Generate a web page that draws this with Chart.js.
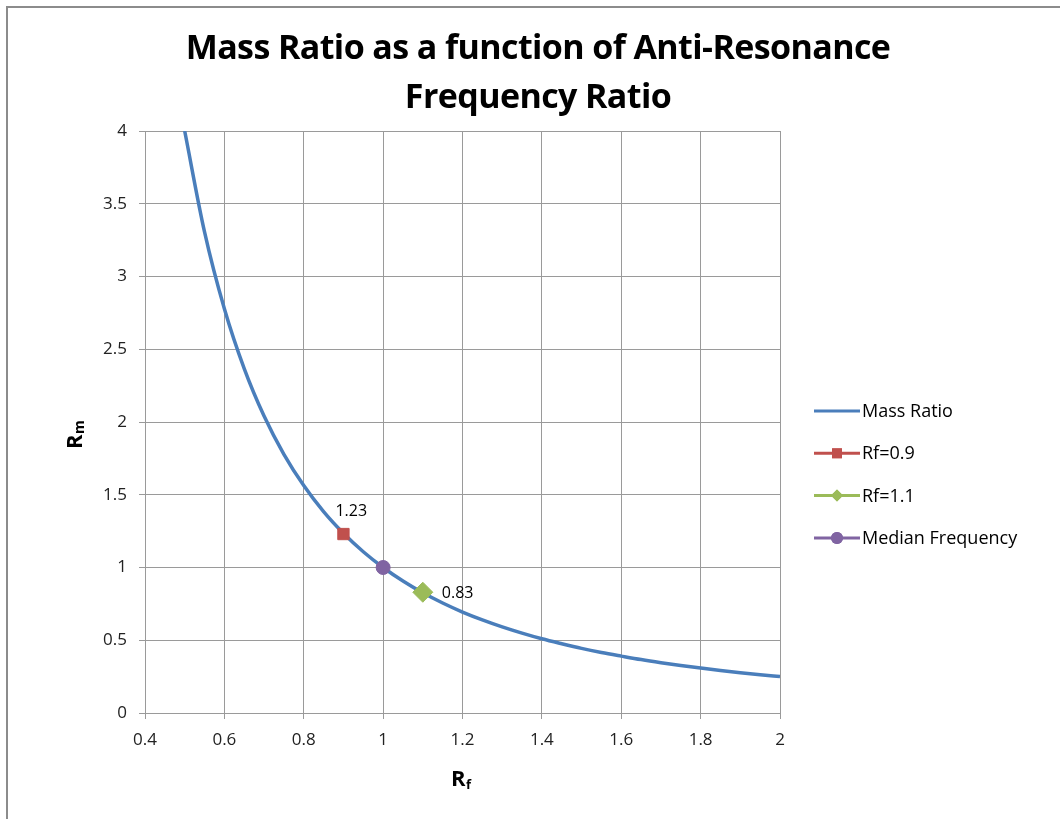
<!DOCTYPE html>
<html>
<head>
<meta charset="utf-8">
<script src="https://cdn.jsdelivr.net/npm/chart.js@4.4.1/dist/chart.umd.min.js"></script>
<style>
  html, body { margin: 0; padding: 0; background: #fff; }
  #wrap { position: relative; width: 1060px; height: 819px; overflow: hidden; }
  #frame { position: absolute; left: 6px; top: 6px; width: 1100px; height: 900px;
           border-left: 2px solid #8c8c8c; border-top: 2px solid #8c8c8c; }
  #title { position: absolute; left: 0; top: 22px; width: 1076px; text-align: center;
           font-family: "Open Sans", sans-serif; font-weight: 700; font-size: 34px;
           line-height: 49px; color: #000; letter-spacing: -0.6px; }
  canvas { position: absolute; left: 0; top: 0; }
</style>
</head>
<body>
<div id="wrap">
  <div id="frame"></div>
  <canvas id="chart" width="1060" height="819"></canvas>
  <div id="title">Mass Ratio as a function of Anti-Resonance<br>Frequency Ratio</div>
</div>
<script>
// Datos
const rfValues = [0.5, 0.55, 0.6, 0.65, 0.7, 0.75, 0.8, 0.85, 0.9, 0.95, 1.0,
  1.05, 1.1, 1.15, 1.2, 1.25, 1.3, 1.35, 1.4, 1.45, 1.5, 1.55, 1.6, 1.65, 1.7,
  1.75, 1.8, 1.85, 1.9, 1.95, 2.0];
const rmValues = [4.000, 3.306, 2.778, 2.367, 2.041, 1.778, 1.563, 1.384, 1.235, 1.108, 1.000,
  0.907, 0.826, 0.756, 0.694, 0.640, 0.592, 0.549, 0.510, 0.476, 0.444, 0.416, 0.391, 0.367, 0.346,
  0.327, 0.309, 0.292, 0.277, 0.263, 0.250];
const rf09 = [{ x: 0.9, y: 1.23 }];
const rf11 = [{ x: 1.1, y: 0.83 }];
const median = [{ x: 1.0, y: 1.0 }];
const seriesNames = ['Mass Ratio', 'Rf=0.9', 'Rf=1.1', 'Median Frequency'];
const pointLabels = ['1.23', '0.83'];

const blue = '#4a7ebb', red = '#c0504d', green = '#9bbb59', purple = '#8064a2';
const tickFont = { family: '"Open Sans", sans-serif', size: 17 };

// Títulos de ejes, etiquetas de puntos y leyenda
const extras = {
  id: 'extras',
  afterDraw(chart) {
    const ctx = chart.ctx;
    const xs = chart.scales.x, ys = chart.scales.y;
    ctx.save();
    ctx.fillStyle = '#000';
    ctx.textBaseline = 'middle';

    // etiquetas de datos
    ctx.font = '16px "Open Sans", sans-serif';
    ctx.textAlign = 'left';
    ctx.fillText(pointLabels[0], xs.getPixelForValue(rf09[0].x) - 8, ys.getPixelForValue(rf09[0].y) - 23);
    ctx.fillText(pointLabels[1], xs.getPixelForValue(rf11[0].x) + 19, ys.getPixelForValue(rf11[0].y) + 1);

    // título eje x: R con f pequeña
    ctx.font = 'bold 22px "Open Sans", sans-serif';
    ctx.textAlign = 'left';
    ctx.fillText('R', 451, 780);
    ctx.font = 'bold 13px "Open Sans", sans-serif';
    ctx.fillText('f', 466, 785);

    // título eje y rotado
    ctx.translate(76, 437);
    ctx.rotate(-Math.PI / 2);
    ctx.font = 'bold 22px "Open Sans", sans-serif';
    ctx.fillText('R', -12, 0);
    ctx.font = 'bold 14px "Open Sans", sans-serif';
    ctx.fillText('m', 3, 4);
    ctx.setTransform(1, 0, 0, 1, 0, 0);

    // leyenda
    const colors = [blue, red, green, purple];
    const shapes = [null, 'rect', 'rectRot', 'circle'];
    const sizes = [0, 7, 6, 6];
    ctx.font = '18px "Open Sans", sans-serif';
    seriesNames.forEach((name, i) => {
      const y = 411 + i * 42.3;
      ctx.strokeStyle = colors[i];
      ctx.lineWidth = 3;
      ctx.beginPath();
      ctx.moveTo(814, y);
      ctx.lineTo(860, y);
      ctx.stroke();
      if (shapes[i]) {
        ctx.fillStyle = colors[i];
        Chart.helpers.drawPoint(ctx, { pointStyle: shapes[i], radius: sizes[i], rotation: 0, borderWidth: 0 }, 837, y);
        ctx.fill();
      }
      ctx.fillStyle = '#000';
      ctx.fillText(name, 862, y + 1);
    });
    ctx.restore();
  }
};

new Chart(document.getElementById('chart'), {
  type: 'scatter',
  data: {
    datasets: [
      {
        label: seriesNames[0],
        data: rfValues.map((x, i) => ({ x, y: rmValues[i] })),
        showLine: true,
        borderColor: blue,
        borderWidth: 3.5,
        pointRadius: 0,
        cubicInterpolationMode: 'monotone',
        order: 4
      },
      {
        label: seriesNames[1],
        data: rf09,
        pointStyle: 'rect',
        pointRadius: 8,
        backgroundColor: red,
        borderColor: red,
        order: 1
      },
      {
        label: seriesNames[2],
        data: rf11,
        pointStyle: 'rectRot',
        pointRadius: 10,
        backgroundColor: green,
        borderColor: green,
        order: 2
      },
      {
        label: seriesNames[3],
        data: median,
        pointStyle: 'circle',
        pointRadius: 7,
        backgroundColor: purple,
        borderColor: purple,
        order: 3
      }
    ]
  },
  options: {
    responsive: false,
    animation: false,
    layout: { padding: { left: 0, right: 280, top: 131, bottom: 0 } },
    plugins: {
      legend: { display: false },
      title: { display: false },
      tooltip: { enabled: false }
    },
    scales: {
      x: {
        type: 'linear',
        min: 0.4,
        max: 2,
        ticks: { stepSize: 0.2, color: '#222', font: tickFont, padding: 11,
                 callback: v => String(Math.round(v * 10) / 10) },
        grid: { color: '#9a9a9a', tickLength: 6, lineWidth: 1 },
        border: { color: '#9a9a9a' },
        afterFit(scale) { scale.height = 106; }
      },
      y: {
        min: 0,
        max: 4,
        ticks: { stepSize: 0.5, color: '#222', font: tickFont, padding: 12,
                 callback: v => String(Math.round(v * 10) / 10) },
        grid: { color: '#9a9a9a', tickLength: 6, lineWidth: 1 },
        border: { color: '#9a9a9a' },
        afterFit(scale) { scale.width = 145; }
      }
    }
  },
  plugins: [extras]
});
</script>
</body>
</html>
